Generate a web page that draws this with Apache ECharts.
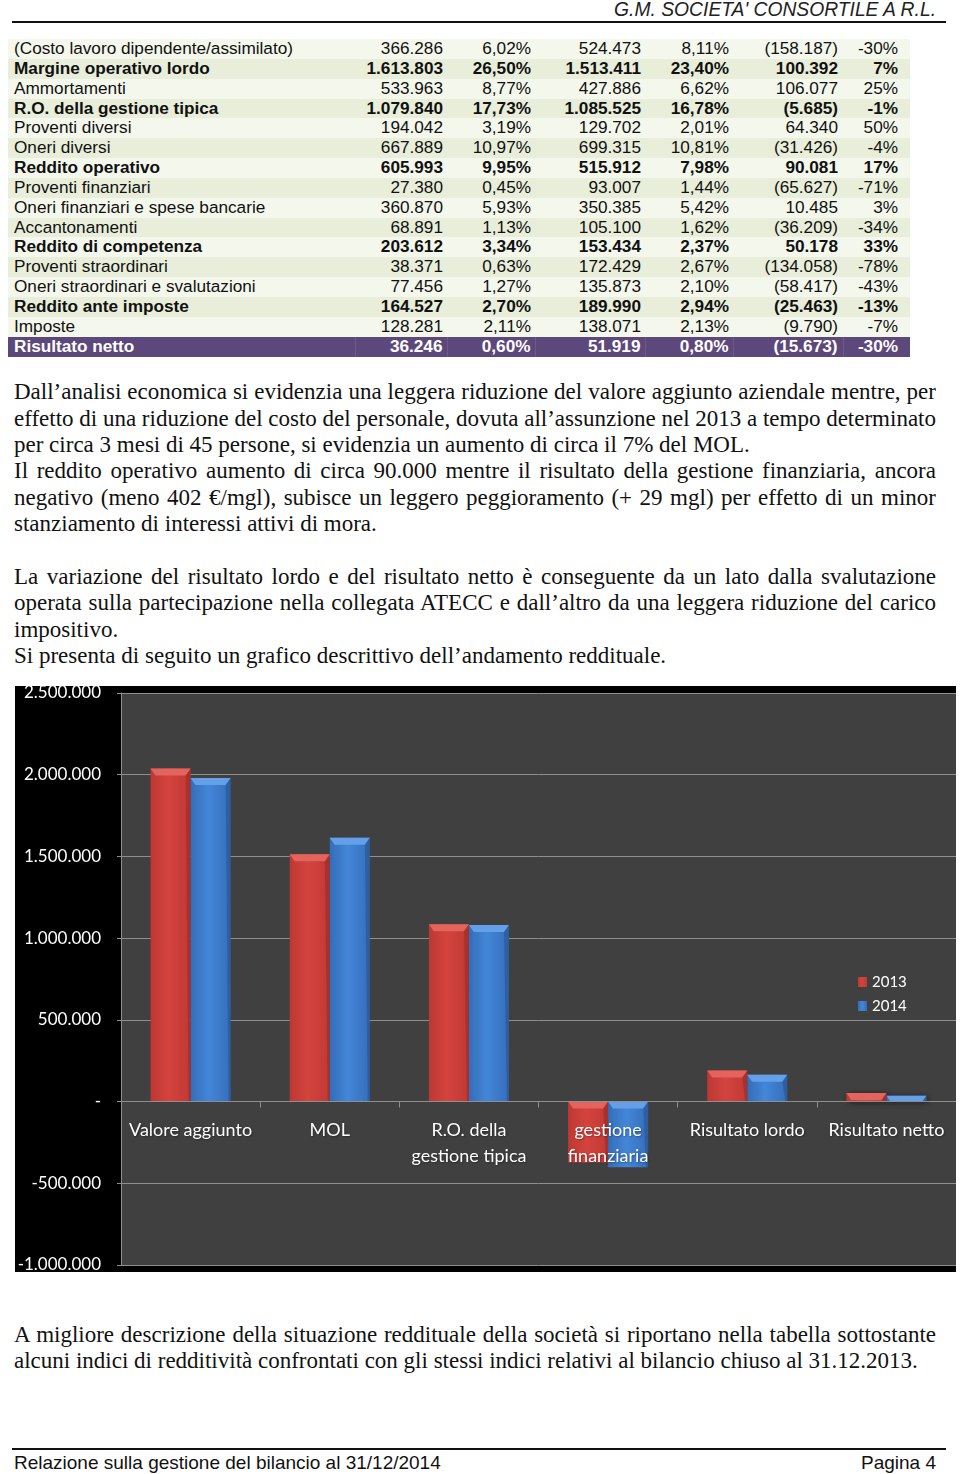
<!DOCTYPE html>
<html><head><meta charset="utf-8">
<script src="https://cdn.jsdelivr.net/npm/echarts@6/dist/echarts.min.js"></script>
<style>
html,body{margin:0;padding:0;background:#fff;}
body{width:960px;height:1474px;overflow:hidden;position:relative;font-family:"Liberation Sans",Arial,sans-serif;color:#111;}
.hdr{position:absolute;right:24px;top:-1px;font-style:italic;font-size:19.3px;line-height:21px;color:#222;white-space:nowrap;}
.rule{position:absolute;left:12px;width:934px;height:2px;background:#111;}
table.t{position:absolute;left:8px;top:39px;border-collapse:collapse;table-layout:fixed;width:902px;font-size:17.2px;}
table.t td{padding:0 4px 0 0;height:19.85px;line-height:19.85px;white-space:nowrap;overflow:hidden;text-align:right;}
table.t td.lab{text-align:left;padding:0 0 0 6px;}
table.t td.last{padding-right:12px;}
table.t td.c5{padding-right:5px;}
table.t tr.odd td{background:#f4f7ec;}
table.t tr.even td{background:#e8eed9;}
table.t tr.b td{font-weight:bold;}
table.t tr.tot td{background:#5d487c;color:#fff;font-weight:bold;}
table.t tr.tot td+td{border-left:1px solid #6c5a89;}
.ln{position:absolute;left:14px;width:922px;height:27px;overflow:hidden;font-family:"Liberation Serif","Times New Roman",serif;font-size:23px;line-height:27px;color:#111;white-space:nowrap;}
.ln.j{text-align:justify;text-align-last:justify;white-space:normal;word-spacing:-4px;}
.foot{position:absolute;top:1452px;font-size:19px;line-height:21px;white-space:nowrap;}
#chart{position:absolute;left:15px;top:686px;width:941px;height:586px;background:#000;}
</style>
</head><body>
<div class="hdr">G.M. SOCIETA' CONSORTILE A R.L.</div>
<div class="rule" style="top:21px"></div>
<table class="t" id="tbl">
<colgroup><col style="width:347px"><col style="width:92px"><col style="width:88px"><col style="width:110px"><col style="width:88px"><col style="width:110px"><col style="width:67px"></colgroup>
<tbody id="tb"></tbody>
</table>

<div class="ln j" style="top:378px">Dall’analisi economica si evidenzia una leggera riduzione del valore aggiunto aziendale mentre, per</div>
<div class="ln j" style="top:405px">effetto di una riduzione del costo del personale, dovuta all’assunzione nel 2013 a tempo determinato</div>
<div class="ln" style="top:431px">per circa 3 mesi di 45 persone, si evidenzia un aumento di circa il 7% del MOL.</div>
<div class="ln j" style="top:457px">Il reddito operativo aumento di circa 90.000 mentre il risultato della gestione finanziaria, ancora</div>
<div class="ln j" style="top:484px">negativo (meno 402 €/mgl), subisce un leggero peggioramento (+ 29 mgl) per effetto di un minor</div>
<div class="ln" style="top:510px">stanziamento di interessi attivi di mora.</div>
<div class="ln j" style="top:563px">La variazione del risultato lordo e del risultato netto è conseguente da un lato dalla svalutazione</div>
<div class="ln j" style="top:589px">operata sulla partecipazione nella collegata ATECC e dall’altro da una leggera riduzione del carico</div>
<div class="ln" style="top:616px">impositivo.</div>
<div class="ln" style="top:642px">Si presenta di seguito un grafico descrittivo dell’andamento reddituale.</div>

<div id="chart"></div>

<div class="ln j" style="top:1321px">A migliore descrizione della situazione reddituale della società si riportano nella tabella sottostante</div>
<div class="ln" style="top:1347px">alcuni indici di redditività confrontati con gli stessi indici relativi al bilancio chiuso al 31.12.2013.</div>

<div class="rule" style="top:1448px"></div>
<div class="foot" style="left:14px">Relazione sulla gestione del bilancio al 31/12/2014</div>
<div class="foot" style="right:24px">Pagina 4</div>

<script>
// ---- table data ----
const rowLabels = ['(Costo lavoro dipendente/assimilato)','Margine operativo lordo','Ammortamenti','R.O. della gestione tipica','Proventi diversi','Oneri diversi','Reddito operativo','Proventi finanziari','Oneri finanziari e spese bancarie','Accantonamenti','Reddito di competenza','Proventi straordinari','Oneri straordinari e svalutazioni','Reddito ante imposte','Imposte','Risultato netto'];
const amount2014 = ['366.286','1.613.803','533.963','1.079.840','194.042','667.889','605.993','27.380','360.870','68.891','203.612','38.371','77.456','164.527','128.281','36.246'];
const pct2014 = ['6,02%','26,50%','8,77%','17,73%','3,19%','10,97%','9,95%','0,45%','5,93%','1,13%','3,34%','0,63%','1,27%','2,70%','2,11%','0,60%'];
const amount2013 = ['524.473','1.513.411','427.886','1.085.525','129.702','699.315','515.912','93.007','350.385','105.100','153.434','172.429','135.873','189.990','138.071','51.919'];
const pct2013 = ['8,11%','23,40%','6,62%','16,78%','2,01%','10,81%','7,98%','1,44%','5,42%','1,62%','2,37%','2,67%','2,10%','2,94%','2,13%','0,80%'];
const diffAbs = ['(158.187)','100.392','106.077','(5.685)','64.340','(31.426)','90.081','(65.627)','10.485','(36.209)','50.178','(134.058)','(58.417)','(25.463)','(9.790)','(15.673)'];
const diffPct = ['-30%','7%','25%','-1%','50%','-4%','17%','-71%','3%','-34%','33%','-78%','-43%','-13%','-7%','-30%'];
const boldRows = [1,3,6,10,13];
const totalRow = 15;

// ---- chart data ----
const categories = ['Valore aggiunto','MOL','R.O. della\ngestione tipica','gestione\nfinanziaria','Risultato lordo','Risultato netto'];
const seriesNames = ['2013','2014'];
const values2013 = [2037884, 1513411, 1085525, -373000, 189990, 51919];
const values2014 = [1980089, 1613803, 1079840, -402000, 164527, 36246];
const yMin = -1000000, yMax = 2500000, yStep = 500000;

// build table
const tb = document.getElementById('tb');
rowLabels.forEach((lab, i) => {
  const tr = document.createElement('tr');
  let cls = (i % 2 === 0) ? 'odd' : 'even';
  if (boldRows.includes(i)) cls += ' b';
  if (i === totalRow) cls = 'tot';
  tr.className = cls;
  const cells = [lab, amount2014[i], pct2014[i], amount2013[i], pct2013[i], diffAbs[i], diffPct[i]];
  cells.forEach((c, k) => {
    const td = document.createElement('td');
    td.textContent = c;
    if (k === 0) td.className = 'lab';
    if (k === 5) td.className = 'c5';
    if (k === 6) td.className = 'last';
    tr.appendChild(td);
  });
  tb.appendChild(tr);
});

function fmt(v){
  if (v === 0) return '-';
  const s = Math.abs(v).toString().replace(/\B(?=(\d{3})+(?!\d))/g, '.');
  return (v < 0 ? '-' : '') + s;
}

const chart = echarts.init(document.getElementById('chart'), null, {renderer:'canvas'});
const G = echarts.graphic.LinearGradient;
const redFill = new G(0,0,1,0,[{offset:0,color:'#bd3833'},{offset:0.45,color:'#d4433e'},{offset:1,color:'#c03934'}]);
const blueFill = new G(0,0,1,0,[{offset:0,color:'#346db8'},{offset:0.45,color:'#4386d8'},{offset:1,color:'#356ebb'}]);
const BAR_W = 40;
// bevel highlight on top of each bar, positioned through the library's scales
function bevel(side, light, edge){
  return function(params, api){
    const idx = api.value(0), val = api.value(1);
    const p = api.coord([idx, val]);
    const b = api.coord([idx, 0]);
    const xc = p[0] + side * BAR_W / 2;
    const x0 = xc - BAR_W / 2, x1 = xc + BAR_W / 2;
    const yTop = Math.min(p[1], b[1]);
    const hgt = Math.abs(b[1] - p[1]);
    const h = Math.min(7, hgt);
    const ins = Math.min(5, h * 0.7);
    return {type:'group',children:[
      {type:'polygon',shape:{points:[[x0,yTop],[x1,yTop],[x1-ins,yTop+h],[x0+ins,yTop+h]]},style:{fill:light}},
      {type:'polygon',shape:{points:[[x1,yTop],[x1,yTop+hgt],[x1-2,yTop+hgt],[x1-ins,yTop+h]]},style:{fill:edge,opacity:0.35}}
    ]};
  };
}
const font = 'Lato, "Open Sans", sans-serif';
chart.setOption({
  backgroundColor:'#000',
  animation:false,
  textStyle:{fontFamily:font},
  grid:{left:106,right:0,top:7,bottom:7,show:true,backgroundColor:'#404040',borderWidth:0,
    containLabel:false,outerBoundsMode:'none'},
  legend:{orient:'vertical',left:838,top:282,itemWidth:9,itemHeight:10,itemGap:6,icon:'rect',
    textStyle:{color:'#fff',fontSize:15,lineHeight:18,fontFamily:font},data:seriesNames},
  xAxis:{type:'category',data:categories,position:'bottom',z:10,
    axisLine:{onZero:false,lineStyle:{color:'#8e8e8e',width:1}},
    axisTick:{show:true,interval:0,length:6,lineStyle:{color:'#8e8e8e'}},
    axisLabel:{interval:0,color:'#fff',fontSize:18,lineHeight:26,margin:16,fontFamily:font,
      textShadowColor:'rgba(0,0,0,0.35)',textShadowBlur:2,textShadowOffsetX:1,textShadowOffsetY:1},
    splitLine:{show:false}},
  yAxis:{type:'value',min:yMin,max:yMax,interval:yStep,
    axisLine:{show:true,lineStyle:{color:'#8e8e8e'}},
    axisTick:{show:true,length:4,lineStyle:{color:'#8e8e8e'}},
    axisLabel:{color:'#fff',fontSize:17,margin:20,fontFamily:font,formatter:fmt},
    splitLine:{lineStyle:{color:'#8e8e8e',width:1}}},
  series:[
    {name:seriesNames[0],type:'bar',data:values2013,barWidth:BAR_W,barGap:'0%',
      itemStyle:{color:redFill,shadowColor:'rgba(0,0,0,0.55)',shadowBlur:6,shadowOffsetX:2,shadowOffsetY:1}},
    {name:seriesNames[1],type:'bar',data:values2014,barWidth:BAR_W,barGap:'0%',
      itemStyle:{color:blueFill,shadowColor:'rgba(0,0,0,0.55)',shadowBlur:6,shadowOffsetX:2,shadowOffsetY:1}},
    {name:'bevel2013',type:'custom',z:3,silent:true,data:values2013.map((v,i)=>[i,v]),
      renderItem:bevel(-1,'#e4635d','#7a1f1c')},
    {name:'bevel2014',type:'custom',z:3,silent:true,data:values2014.map((v,i)=>[i,v]),
      renderItem:bevel(1,'#64a0ea','#1d3f70')}
  ]
});
// move the category axis (line, ticks, labels) onto the zero line, using the value scale
const zeroPx = chart.convertToPixel({yAxisIndex:0}, 0);
const minPx = chart.convertToPixel({yAxisIndex:0}, yMin);
chart.setOption({xAxis:{offset:-(minPx - zeroPx)}});
</script>
</body></html>
